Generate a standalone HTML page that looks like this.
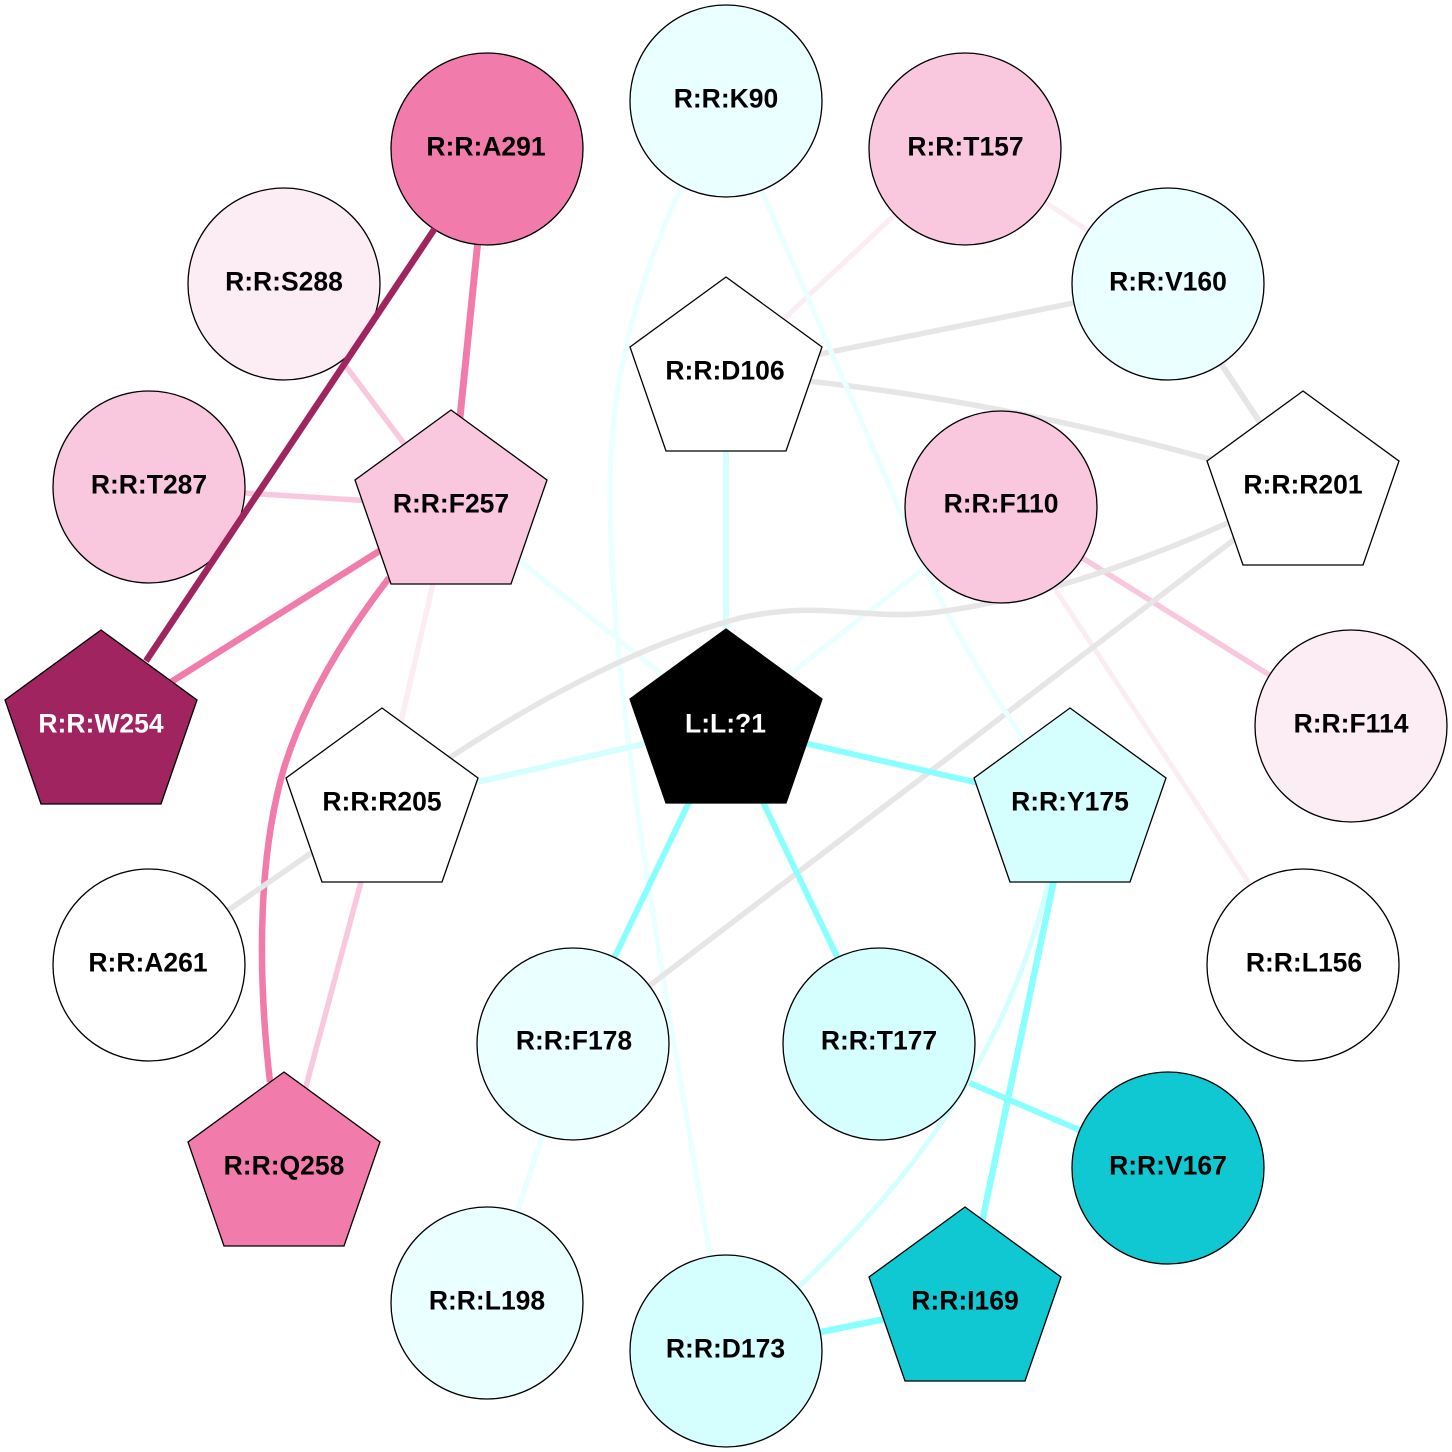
<!DOCTYPE html>
<html>
<head>
<meta charset="utf-8">
<style>
html,body{margin:0;padding:0;background:#fff;width:1452px;height:1452px;overflow:hidden}
svg{display:block}
text{font-family:"Liberation Sans",Arial,sans-serif;font-weight:bold;font-size:26.5px;text-anchor:middle;fill:#000}
.n{stroke:#000;stroke-width:1.3}
path{fill:none}
</style>
</head>
<body>
<svg width="1452" height="1452" viewBox="0 0 1452 1452" xmlns="http://www.w3.org/2000/svg">
<!-- edges -->
<g stroke-linecap="butt">
<path d="M478 240L451 506" stroke="#f17bab" stroke-width="7"/>
<path d="M284 284L451 506" stroke="#fac8de" stroke-width="5.500"/>
<path d="M149 487L451 506" stroke="#fac8de" stroke-width="5.500"/>
<path d="M451 506L101 726" stroke="#f17bab" stroke-width="6.500"/>
<path d="M389 578C345 635 305 700 284 768C260 850 256 960 270 1082" stroke="#f17bab" stroke-width="6.500"/>
<path d="M451 506L382 804" stroke="#fcedf5" stroke-width="5.500"/>
<path d="M451 506L726 725" stroke="#eaffff" stroke-width="5"/>
<path d="M965 149L726 373" stroke="#fcedf5" stroke-width="5"/>
<path d="M965 149L1168 284" stroke="#fcedf5" stroke-width="5"/>
<path d="M1168 284L726 373" stroke="#e6e6e6" stroke-width="5.500"/>
<path d="M1168 284L1303 487" stroke="#e6e6e6" stroke-width="6"/>
<path d="M726 373C870 385 1060 410 1303 487" stroke="#e6e6e6" stroke-width="5.500"/>
<path d="M726 373L726 725" stroke="#d5ffff" stroke-width="6"/>
<path d="M726 101C640 250 608 380 610 500C612 720 670 1010 726 1351" stroke="#eaffff" stroke-width="5"/>
<path d="M1001 507L726 725" stroke="#eaffff" stroke-width="5"/>
<path d="M1001 507L1351 726" stroke="#fac8de" stroke-width="5.500"/>
<path d="M1001 507L1303 965" stroke="#fcedf5" stroke-width="5"/>
<path d="M1303 487L573 1044" stroke="#e6e6e6" stroke-width="5.500"/>
<path d="M760 187C800 280 850 395 890 487C905 522 940 620 1030 748" stroke="#eaffff" stroke-width="5"/>
<path d="M1303 487C1180 550 1040 600 930 613C860 620 820 600 740 618C620 650 500 720 382 804" stroke="#e6e6e6" stroke-width="5.500"/>
<path d="M382 804L726 725" stroke="#d5ffff" stroke-width="6"/>
<path d="M382 804L149 965" stroke="#e6e6e6" stroke-width="5.500"/>
<path d="M382 804L284 1168" stroke="#fac8de" stroke-width="5.500"/>
<path d="M726 725L1070 804" stroke="#8affff" stroke-width="6"/>
<path d="M726 725L573 1044" stroke="#8affff" stroke-width="6"/>
<path d="M726 725L879 1044" stroke="#8affff" stroke-width="6"/>
<path d="M879 1044L1168 1168" stroke="#8affff" stroke-width="6"/>
<path d="M1056 850C1017 1040 920 1190 726 1351" stroke="#d5ffff" stroke-width="5"/>
<path d="M1070 804L965 1303" stroke="#8affff" stroke-width="6.500"/>
<path d="M726 1351L965 1303" stroke="#8affff" stroke-width="6.500"/>
<path d="M573 1044L487 1303" stroke="#eaffff" stroke-width="5.500"/>
</g>
<!-- circles -->
<g>
<circle class="n" cx="726" cy="101" r="96" fill="#eaffff"/>
<circle class="n" cx="487" cy="149" r="96" fill="#f17bab"/>
<circle class="n" cx="965" cy="149" r="96" fill="#fac8de"/>
<circle class="n" cx="284" cy="284" r="96" fill="#fcedf5"/>
<circle class="n" cx="1168" cy="284" r="96" fill="#eaffff"/>
<circle class="n" cx="149" cy="487" r="96" fill="#fac8de"/>
<circle class="n" cx="1001" cy="507" r="96" fill="#fac8de"/>
<circle class="n" cx="1351" cy="726" r="96" fill="#fcedf5"/>
<circle class="n" cx="149" cy="965" r="96" fill="#ffffff"/>
<circle class="n" cx="1303" cy="965" r="96" fill="#ffffff"/>
<circle class="n" cx="573" cy="1044" r="96" fill="#eaffff"/>
<circle class="n" cx="879" cy="1044" r="96" fill="#d5ffff"/>
<circle class="n" cx="1168" cy="1168" r="96" fill="#0fc8d2"/>
<circle class="n" cx="487" cy="1303" r="96" fill="#eaffff"/>
<circle class="n" cx="726" cy="1351" r="96" fill="#d5ffff"/>
</g>
<!-- edge drawn over neighbouring nodes -->
<path d="M434.500 229L146 661" stroke="#a0245f" stroke-width="6.500"/>
<!-- pentagons -->
<polygon class="n" points="726,277 822,347 786,451 666,451 630,347" fill="#ffffff"/>
<polygon class="n" points="451,410 547,480 511,584 391,584 355,480" fill="#fac8de"/>
<polygon class="n" points="1303,391 1399,461 1363,565 1243,565 1207,461" fill="#ffffff"/>
<polygon class="n" points="101,630 197,700 161,804 41,804 5,700" fill="#a0245f"/>
<polygon class="n" points="726,629 822,699 786,803 666,803 630,699" fill="#000000"/>
<polygon class="n" points="382,708 478,778 442,882 322,882 286,778" fill="#ffffff"/>
<polygon class="n" points="1070,708 1166,778 1130,882 1010,882 974,778" fill="#d5ffff"/>
<polygon class="n" points="284,1072 380,1142 344,1246 224,1246 188,1142" fill="#f17bab"/>
<polygon class="n" points="965,1207 1061,1277 1025,1381 905,1381 869,1277" fill="#0fc8d2"/>
<!-- labels -->
<text x="726" y="107.500">R:R:K90</text>
<text x="486" y="155.500">R:R:A291</text>
<text x="965.500" y="155.500">R:R:T157</text>
<text x="284" y="290.500">R:R:S288</text>
<text x="1168" y="290.500">R:R:V160</text>
<text x="149" y="493.500">R:R:T287</text>
<text x="1001" y="512.500">R:R:F110</text>
<text x="1351" y="732.500">R:R:F114</text>
<text x="148" y="971.500">R:R:A261</text>
<text x="1304" y="971.500">R:R:L156</text>
<text x="574" y="1049.500">R:R:F178</text>
<text x="879" y="1049.500">R:R:T177</text>
<text x="1168" y="1174.500">R:R:V167</text>
<text x="487" y="1309.500">R:R:L198</text>
<text x="725.500" y="1357.500">R:R:D173</text>
<text x="725" y="379.500">R:R:D106</text>
<text x="451" y="512.500">R:R:F257</text>
<text x="1303" y="493.500">R:R:R201</text>
<text x="101" y="732.500" style="fill:#fff">R:R:W254</text>
<text x="725.500" y="732.500" style="fill:#fff">L:L:?1</text>
<text x="382" y="810.500">R:R:R205</text>
<text x="1070" y="810.500">R:R:Y175</text>
<text x="284" y="1174.500">R:R:Q258</text>
<text x="965" y="1309.500">R:R:I169</text>
</svg>
</body>
</html>
